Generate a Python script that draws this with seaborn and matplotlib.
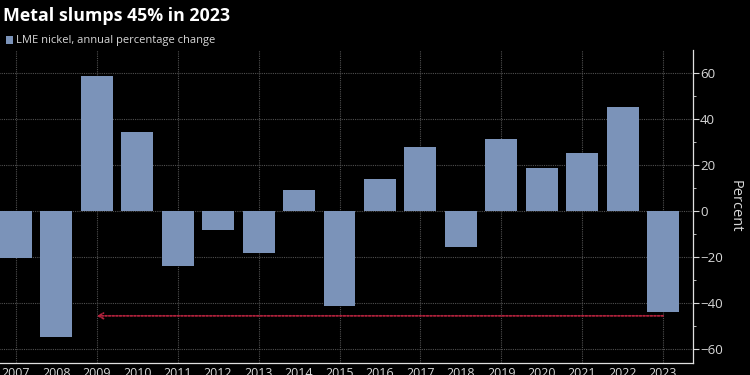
import matplotlib
matplotlib.use("Agg")
import matplotlib.pyplot as plt
import seaborn as sns
import pandas as pd
from matplotlib.ticker import MultipleLocator

years = [str(y) for y in range(2007, 2024)]
pct_change = [-20.7, -55.0, 58.6, 34.1, -24.3, -8.6, -18.3, 8.9, -41.5,
              13.6, 27.5, -16.0, 31.3, 18.6, 25.1, 45.2, -44.3]
title = "Metal slumps 45% in 2023"
legend_label = "LME nickel, annual percentage change"
arrow_from, arrow_to, arrow_y = "2023", "2009", -45.8

bar_color = "#7b93b9"
bg = "black"
grid_color = "#505050"
text_color = "#d8d8d8"

sns.set_style("dark")
plt.rcParams['font.family'] = ['Open Sans', 'DejaVu Sans']

df = pd.DataFrame({'year': years, 'change': pct_change})

fig = plt.figure(figsize=(7.5, 3.75), dpi=100, facecolor=bg)
ax = fig.add_axes([-14 / 750, 12 / 375, 707 / 750, 313 / 375])
ax.set_facecolor(bg)

sns.barplot(data=df, x='year', y='change', color=bar_color, width=0.79,
            saturation=1, edgecolor="none", linewidth=0, ax=ax, zorder=3)

ax.set_xlim(-0.74, len(years) - 1 + 0.74)
ax.set_ylim(-66.3, 69.8)

# axes on the right, like the terminal charts
ax.yaxis.tick_right()
ax.yaxis.set_label_position("right")
ax.yaxis.set_major_locator(MultipleLocator(20))
ax.yaxis.set_minor_locator(MultipleLocator(10))
ax.tick_params(axis='y', which='major', colors=text_color, labelsize=9.5,
               length=4, width=0.8, pad=1)
ax.tick_params(axis='y', which='minor', colors=text_color, length=2, width=0.6)
ax.tick_params(axis='x', colors=text_color, labelsize=9, length=3, width=0.8, pad=0)
ax.set_ylabel("Percent", color=text_color, fontsize=10.5, rotation=270, labelpad=14)
ax.set_xlabel("")

for s in ['top', 'left']:
    ax.spines[s].set_visible(False)
for s in ['right', 'bottom']:
    ax.spines[s].set_visible(True)
    ax.spines[s].set_color("#e0e0e0")
    ax.spines[s].set_linewidth(0.9)

# grid: horizontal at major ticks, vertical every other year
ax.grid(False)
ax.yaxis.grid(True, color=grid_color, linestyle=(0, (1, 1)), linewidth=0.8, zorder=0)
for i in range(0, len(years), 2):
    ax.axvline(i, color=grid_color, linestyle=(0, (1, 1)), linewidth=0.8, zorder=0)

# arrow from 2023 back to 2009
ax.annotate("", xy=(years.index(arrow_to), arrow_y),
            xytext=(years.index(arrow_from), arrow_y),
            arrowprops=dict(arrowstyle="->,head_length=0.35,head_width=0.2",
                            linestyle=(0, (1, 1)),
                            color="#b0223c", lw=1.3, shrinkA=0, shrinkB=0),
            zorder=4)

fig.text(0.004, 0.958, title, color="white", fontsize=12.8, fontweight="bold",
         va="center", ha="left")
fig.patches.append(plt.Rectangle((6 / 750, 1 - 44 / 375), 7 / 750, 8 / 375,
                                 transform=fig.transFigure, facecolor=bar_color,
                                 edgecolor="none"))
fig.text(16 / 750, 1 - 40 / 375, legend_label, color=text_color, fontsize=8,
         va="center", ha="left")

fig.savefig("out.png", dpi=100, facecolor=bg)
